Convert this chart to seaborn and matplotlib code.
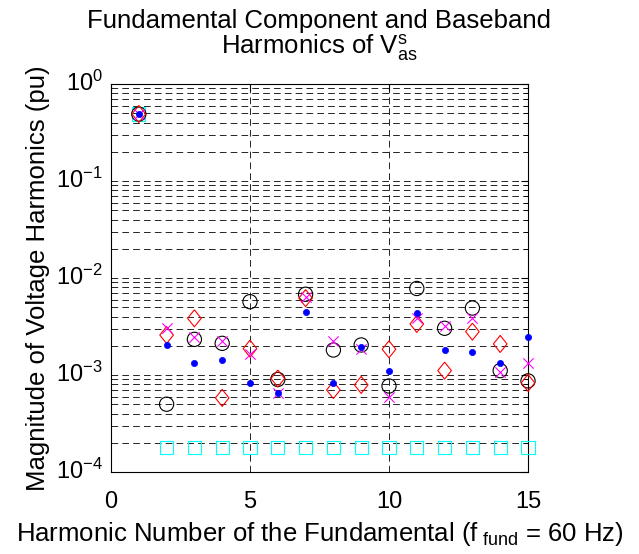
import matplotlib
matplotlib.use("Agg")
import matplotlib.pyplot as plt
import seaborn as sns
import numpy as np
from matplotlib.ticker import LogLocator, FixedLocator, NullFormatter
from matplotlib.transforms import ScaledTranslation

sns.set_style("white")
plt.rcParams['font.family'] = ['Liberation Sans', 'DejaVu Sans']
plt.rcParams['mathtext.fontset'] = 'custom'
plt.rcParams['mathtext.rm'] = 'Liberation Sans'
plt.rcParams['mathtext.it'] = 'Liberation Sans'
plt.rcParams['mathtext.default'] = 'regular'
plt.rcParams['axes.unicode_minus'] = False
plt.rcParams['text.color'] = 'black'
plt.rcParams['axes.labelcolor'] = 'black'
plt.rcParams['xtick.color'] = 'black'
plt.rcParams['ytick.color'] = 'black'

harmonics = list(range(1, 16))
circle_vals = [0.49, 5.0e-4, 2.33e-3, 2.12e-3, 5.7e-3, 9.0e-4, 6.8e-3, 1.81e-3,
               2.04e-3, 7.7e-4, 7.8e-3, 3.03e-3, 4.9e-3, 1.11e-3, 8.7e-4]
diamond_vals = [0.49, 2.58e-3, 3.84e-3, 5.8e-4, 1.87e-3, 9.2e-4, 6.2e-3, 7.0e-4,
                7.9e-4, 1.84e-3, 3.36e-3, 1.11e-3, 2.8e-3, 2.09e-3, 8.3e-4]
cross_vals = [0.49, 3.03e-3, 2.45e-3, 2.26e-3, 1.63e-3, 6.6e-4, 6.4e-3, 2.26e-3,
              1.85e-3, 6.0e-4, 3.84e-3, 3.2e-3, 3.9e-3, 1.08e-3, 1.32e-3]
dot_vals = [0.49, 2.04e-3, 1.32e-3, 1.43e-3, 8.3e-4, 6.6e-4, 4.5e-3, 8.3e-4,
            1.93e-3, 1.10e-3, 4.33e-3, 1.81e-3, 1.74e-3, 1.32e-3, 2.48e-3]
square_vals = [0.49] + [1.8e-4] * 14

x_ticks = [0, 5, 10, 15]

FS = 18.5
TFS = 17

fig = plt.figure(figsize=(6.39, 5.54), dpi=100)
ax = fig.add_axes([0.1737, 0.148, 0.6526, 0.7004])

diamond_marker = [(0, 1), (0.8, 0), (0, -1), (-0.8, 0), (0, 1)]

sns.scatterplot(x=harmonics, y=square_vals, ax=ax, marker='s', s=92,
                facecolor='none', edgecolor=(0, 1, 1), linewidth=0.8, zorder=3, clip_on=False)
sns.scatterplot(x=harmonics, y=circle_vals, ax=ax, marker='o', s=105,
                facecolor='none', edgecolor='k', linewidth=0.8, zorder=3, clip_on=False)
sns.scatterplot(x=harmonics, y=diamond_vals, ax=ax, marker=diamond_marker, s=150,
                facecolor='none', edgecolor='red', linewidth=0.8, zorder=3, clip_on=False)
sns.scatterplot(x=harmonics, y=cross_vals, ax=ax, marker='x', s=55,
                color=(1, 0, 1), linewidth=0.8, zorder=3, clip_on=False)
sns.scatterplot(x=harmonics, y=dot_vals, ax=ax, marker='o', s=20,
                facecolor='blue', edgecolor='blue', linewidth=0.5, zorder=4, clip_on=False)

ax.set_yscale('log')
ax.set_ylim(1e-4, 1e0)
ax.set_xlim(0, 15)
ax.xaxis.set_major_locator(FixedLocator(x_ticks))
ax.yaxis.set_major_locator(LogLocator(base=10, numticks=10))
ax.yaxis.set_minor_locator(LogLocator(base=10, subs=np.arange(2, 10), numticks=20))
ax.yaxis.set_minor_formatter(NullFormatter())

dash = (0, (8, 5))
ax.grid(True, which='major', axis='both', color='k', linestyle=dash, linewidth=0.6)
ax.grid(True, which='minor', axis='y', color='k', linestyle=dash, linewidth=0.6)

for s in ax.spines.values():
    s.set_color('k')
    s.set_linewidth(0.8)

ax.tick_params(axis='both', which='both', direction='in', top=True, right=True,
               labelsize=TFS, colors='k', labelcolor='k')
ax.tick_params(which='major', length=5)
ax.tick_params(which='minor', length=3)
ax.tick_params(axis='x', pad=14)
ax.tick_params(axis='y', pad=6)

ax.set_xlabel('Harmonic Number of the Fundamental (f$_{\\ fund}$ = 60 Hz)', fontsize=FS,
              labelpad=5, color='k')
ax.set_ylabel('Magnitude of Voltage Harmonics (pu)', fontsize=FS, labelpad=4, color='k')
ax.set_title('Fundamental Component and Baseband\nHarmonics of V$^{s}_{as}$',
             fontsize=FS, pad=22, linespacing=0.95, color='k')

fig.canvas.draw()
for lab in ax.get_yticklabels():
    lab.set_transform(lab.get_transform() + ScaledTranslation(0, 2 / 72, fig.dpi_scale_trans))

fig.savefig('out.png', dpi=100, facecolor='white')
